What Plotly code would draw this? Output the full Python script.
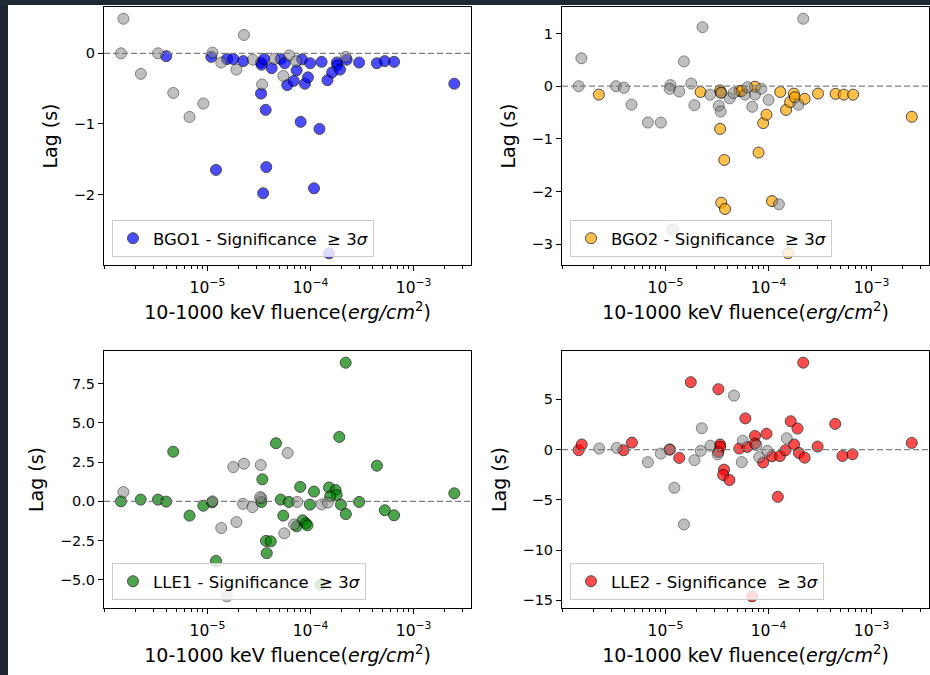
import plotly.graph_objects as go
import math

# ---------------- data ----------------
# Panel 1: BGO1
bgo1_sig_x = [3.98e-6, 1.09e-5, 1.21e-5, 1.55e-5, 1.78e-5, 2.22e-5, 3.31e-5, 3.35e-5, 3.55e-5, 3.31e-5,
              3.67e-5, 3.72e-5, 3.47e-5, 4.20e-5, 5.13e-5, 5.62e-5, 5.94e-5, 6.86e-5, 7.33e-5, 8.02e-5,
              8.26e-5, 8.83e-5, 9.44e-5, 9.93e-5, 1.08e-4, 1.22e-4, 1.28e-4, 1.46e-4, 1.62e-4, 1.80e-4,
              1.82e-4, 1.93e-4, 2.24e-4, 2.96e-4, 4.40e-4, 5.25e-4, 6.46e-4, 2.48e-3, 1.51e-4]
bgo1_sig_y = [-0.04, -0.05, -1.65, -0.08, -0.08, -0.11, -0.13, -0.16, -0.08, -0.57,
              -0.80, -1.61, -1.98, -0.21, -0.08, -0.14, -0.45, -0.39, -0.24, -0.97,
              -0.085, -0.43, -0.34, -0.14, -1.91, -1.07, -0.12, -0.38, -0.27, -0.13,
              -0.17, -0.23, -0.09, -0.13, -0.14, -0.11, -0.12, -0.43, -2.83]
bgo1_ns_x = [1.45e-6, 1.53e-6, 2.26e-6, 3.31e-6, 4.66e-6, 6.70e-6, 9.12e-6, 1.12e-5, 1.36e-5, 1.91e-5,
             2.26e-5, 2.75e-5, 3.39e-5, 4.47e-5, 5.44e-5, 6.22e-5, 7.24e-5, 2.19e-4]
bgo1_ns_y = [0.00, 0.49, -0.29, 0.00, -0.56, -0.90, -0.71, 0.01, -0.13, -0.23,
             0.26, -0.09, -0.44, -0.08, -0.32, -0.03, -0.11, -0.05]

# Panel 2: BGO2
bgo2_sig_x = [2.26e-6, 2.19e-5, 3.39e-5, 3.45e-5, 3.39e-5, 3.72e-5, 3.48e-5, 3.78e-5, 5.25e-5, 5.50e-5,
              7.38e-5, 8.00e-5, 8.87e-5, 9.55e-5, 1.08e-4, 1.30e-4, 1.48e-4, 1.62e-4, 1.76e-4, 1.80e-4,
              2.24e-4, 3.02e-4, 4.47e-4, 5.37e-4, 6.61e-4, 2.45e-3, 1.55e-4]
bgo2_sig_y = [-0.16, -0.11, -0.08, -0.12, -0.81, -1.40, -2.21, -2.33, -0.095, -0.09,
              -0.01, -1.26, -0.70, -0.54, -2.18, -0.11, -0.45, -0.30, -0.14, -0.21,
              -0.24, -0.14, -0.145, -0.16, -0.16, -0.58, -3.17]
bgo2_ns_x = [1.44e-6, 1.53e-6, 3.31e-6, 3.95e-6, 4.68e-6, 6.76e-6, 9.02e-6, 1.12e-5, 1.10e-5, 1.36e-5,
             1.51e-5, 1.78e-5, 1.91e-5, 2.29e-5, 2.71e-5, 3.29e-5, 3.43e-5, 3.48e-5, 4.20e-5, 4.57e-5,
             5.94e-5, 6.25e-5, 6.95e-5, 7.38e-5, 8.51e-5, 1.00e-4, 1.26e-4, 1.95e-4, 2.17e-4, 1.17e-5]
bgo2_ns_y = [0.00, 0.53, 0.00, -0.03, -0.35, -0.69, -0.69, 0.02, -0.05, -0.10,
             0.47, 0.05, -0.36, 1.12, -0.16, -0.37, -0.48, -0.13, -0.23, -0.13,
             -0.16, -0.02, -0.39, -0.16, -0.05, -0.26, -2.24, -0.35, 1.28, -2.72]

# Panel 3: LLE1
lle1_sig_x = [1.45e-6, 2.25e-6, 3.31e-6, 3.98e-6, 4.66e-6, 6.70e-6, 9.12e-6, 1.11e-5, 1.21e-5, 3.33e-5,
              3.41e-5, 3.70e-5, 4.11e-5, 3.76e-5, 4.62e-5, 5.13e-5, 5.44e-5, 6.17e-5, 7.33e-5, 7.94e-5,
              8.38e-5, 9.02e-5, 9.33e-5, 9.86e-5, 1.08e-4, 1.51e-4, 1.75e-4, 1.79e-4, 1.55e-4, 1.90e-4,
              1.97e-4, 2.19e-4, 2.20e-4, 2.96e-4, 4.40e-4, 5.25e-4, 6.46e-4, 2.48e-3, 1.26e-4]
lle1_sig_y = [0.00, 0.11, 0.11, -0.02, 3.16, -0.91, -0.28, -0.06, -3.80, -0.04,
              1.40, -2.52, -2.55, -3.30, 3.70, 0.11, -0.91, -0.04, -1.59, 0.92,
              -1.21, -1.40, -1.53, -0.21, 0.62, 0.88, 0.72, 0.40, 0.32, 4.10,
              -0.21, 8.83, -0.81, -0.04, 2.27, -0.57, -0.89, 0.51, -5.31]
lle1_ns_x = [1.53e-6, 1.12e-5, 1.36e-5, 1.78e-5, 1.91e-5, 2.26e-5, 2.21e-5, 2.73e-5, 3.29e-5, 3.33e-5,
             3.24e-5, 5.56e-5, 6.00e-5, 6.92e-5, 7.41e-5, 1.28e-4, 1.47e-4, 1.54e-5]
lle1_ns_y = [0.59, 0.00, -1.70, 2.18, -1.32, 2.40, -0.16, -0.37, 2.31, 0.19,
             0.27, -2.04, 3.08, -1.47, -0.04, -0.20, -0.08, -6.05]

# Panel 4: LLE2
lle2_sig_x = [1.44e-6, 1.54e-6, 3.92e-6, 4.73e-6, 1.10e-5, 1.36e-5, 1.76e-5, 3.26e-5, 3.39e-5, 3.39e-5,
              3.26e-5, 3.70e-5, 3.63e-5, 4.17e-5, 5.21e-5, 5.96e-5, 6.22e-5, 7.38e-5, 7.41e-5, 8.87e-5,
              9.55e-5, 1.08e-4, 1.23e-4, 1.29e-4, 1.46e-4, 1.64e-4, 1.77e-4, 1.91e-4, 1.97e-4, 2.17e-4,
              2.24e-4, 2.99e-4, 4.43e-4, 5.21e-4, 6.52e-4, 2.45e-3, 6.92e-5]
lle2_sig_y = [-0.07, 0.50, -0.07, 0.69, 0.00, -0.83, 6.70, 6.00, 0.50, 0.26,
              -0.24, -2.00, -2.53, -3.03, 0.10, 3.10, 0.26, 1.35, 0.60, -1.29,
              1.57, -0.67, -4.70, -0.65, -0.07, 2.81, 0.50, 2.09, -0.34, 8.64,
              -0.81, 0.30, 2.55, -0.64, -0.47, 0.66, -14.6]
lle2_ns_x = [2.28e-6, 3.36e-6, 6.76e-6, 9.02e-6, 1.10e-5, 1.22e-5, 1.51e-5, 1.91e-5, 2.20e-5, 2.25e-5,
             2.73e-5, 3.21e-5, 4.62e-5, 5.50e-5, 5.62e-5, 7.62e-5, 8.13e-5, 9.73e-5, 1.50e-4]
lle2_ns_y = [0.10, 0.16, -1.26, -0.40, 0.00, -3.80, -7.45, -1.06, -0.13, 2.12,
             0.38, -0.48, 5.37, -1.25, 0.88, 0.43, -0.76, -0.13, 1.12]

detectors = ["BGO1", "BGO2", "LLE1", "LLE2"]
colors = ["blue", "orange", "green", "red"]
y_dticks = [1, 1, 2.5, 5]
y_formats = ["", "", ".1f", ""]
x_tickvals = [1e-5, 1e-4, 1e-3]
x_ticktext = ["10<sup>\u22125</sup>", "10<sup>\u22124</sup>", "10<sup>\u22123</sup>"]

panels = [
    (bgo1_sig_x, bgo1_sig_y, bgo1_ns_x, bgo1_ns_y),
    (bgo2_sig_x, bgo2_sig_y, bgo2_ns_x, bgo2_ns_y),
    (lle1_sig_x, lle1_sig_y, lle1_ns_x, lle1_ns_y),
    (lle2_sig_x, lle2_sig_y, lle2_ns_x, lle2_ns_y),
]

# ---------------- layout geometry ----------------
W, H = 930, 675
boxes = [(104, 7, 471, 265), (562, 7, 929, 265), (104, 351, 471, 608), (562, 351, 929, 608)]
y_standoffs = [11, 11, 11, 10]
FONT = "DejaVu Sans"

def mpl_range(vals, log=False):
    v = [math.log10(a) for a in vals] if log else list(vals)
    lo, hi = min(v), max(v)
    pad = 0.05 * (hi - lo)
    return [lo - pad, hi + pad]

fig = go.Figure()
layout = dict(
    width=W, height=H,
    margin=dict(l=0, r=0, t=0, b=0),
    paper_bgcolor="white", plot_bgcolor="white",
    showlegend=True,
    font=dict(family=FONT, color="black"),
    shapes=[],
)

all_x = [x for p in panels for x in (p[0] + p[2])]
xr = mpl_range(all_x, log=True)

for i, (sx, sy, nx, ny) in enumerate(panels):
    k = "" if i == 0 else str(i + 1)
    xa, ya = "x" + k, "y" + k
    leg = "legend" + k
    x0, y0, x1, y1 = boxes[i]
    # significant points
    fig.add_trace(go.Scatter(
        x=sx, y=sy, mode="markers", xaxis=xa, yaxis=ya, legend=leg,
        name=f"{detectors[i]} - Significance \u00a0\u2265 3<i>\u03c3</i>",
        marker=dict(size=11, color=colors[i], opacity=0.7, line=dict(color="black", width=1)),
        showlegend=True,
    ))
    # non-significant points
    fig.add_trace(go.Scatter(
        x=nx, y=ny, mode="markers", xaxis=xa, yaxis=ya,
        marker=dict(size=11, color="grey", opacity=0.5, line=dict(color="black", width=1)),
        showlegend=False,
    ))
    yr = mpl_range(sy + ny)
    layout["xaxis" + k] = dict(
        domain=[x0 / W, x1 / W], anchor=ya, type="log", range=xr,
        tickvals=x_tickvals, ticktext=x_ticktext,
        ticks="outside", ticklen=5, tickwidth=1, tickcolor="black",
        ticklabelstandoff=3,
        minor=dict(ticks="outside", ticklen=3, tickwidth=0.8, tickcolor="black", dtick="D1", showgrid=False),
        showline=True, linecolor="black", linewidth=1, mirror=True,
        showgrid=False, zeroline=False,
        tickfont=dict(size=15.5, family=FONT, color="black"),
        title=dict(text="10-1000 keV fluence(<i>erg/cm</i><sup>2</sup>)",
                   font=dict(size=19, family=FONT, color="black"), standoff=10),
        automargin=False,
    )
    layout["yaxis" + k] = dict(
        domain=[1 - y1 / H, 1 - y0 / H], anchor=xa, range=yr,
        dtick=y_dticks[i], tick0=0, tickformat=y_formats[i],
        ticks="outside", ticklen=5, tickwidth=1, tickcolor="black",
        showline=True, linecolor="black", linewidth=1, mirror=True,
        showgrid=False, zeroline=False,
        tickfont=dict(size=14.5, family=FONT, color="black"),
        title=dict(text="Lag (s)", font=dict(size=19, family=FONT, color="black"), standoff=y_standoffs[i]),
        automargin=False,
    )
    layout[leg] = dict(
        x=(x0 + 8) / W, y=1 - (y1 - 8) / H, xanchor="left", yanchor="bottom",
        bgcolor="rgba(255,255,255,0.8)", bordercolor="#cccccc", borderwidth=1,
        font=dict(size=16.5, family=FONT, color="black"),
    )
    # dashed zero line
    layout["shapes"].append(dict(
        type="line", xref=xa + " domain", yref=ya, x0=0, x1=1, y0=0, y1=0,
        line=dict(color="grey", width=1.3, dash="6px,3px"), layer="above",
    ))

# dark strips of the background picture (left and top edges)
layout["shapes"].append(dict(type="rect", xref="paper", yref="paper", x0=0, x1=8 / W, y0=0, y1=1,
                             fillcolor="#1c2630", line=dict(width=0), layer="below"))
layout["shapes"].append(dict(type="rect", xref="paper", yref="paper", x0=0, x1=1, y0=1 - 5 / H, y1=1,
                             fillcolor="#1c2a33", line=dict(width=0), layer="below"))

fig.update_layout(**layout)
fig.write_html(
    "out.html",
    config={"displayModeBar": False},
    post_script="document.body.style.margin='0';document.body.style.overflow='hidden';",
)
